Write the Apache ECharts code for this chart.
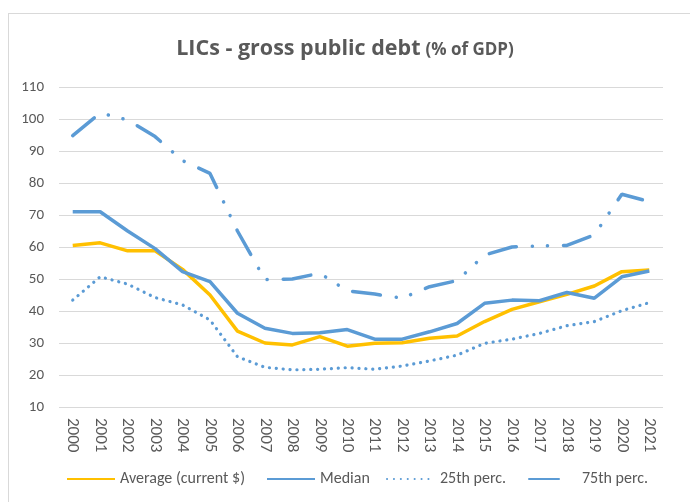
<!DOCTYPE html>
<html>
<head>
<meta charset="utf-8">
<script src="https://cdn.jsdelivr.net/npm/echarts@6/dist/echarts.min.js"></script>
<style>
  html, body { margin: 0; padding: 0; background: #fff; }
  #frame { position: absolute; left: 8px; top: 13px; width: 720px; height: 520px; border: 1px solid #d9d9d9; }
  #chart { position: absolute; left: 0; top: 0; width: 690px; height: 502px; }
</style>
</head>
<body>
<div id="frame"></div>
<div id="chart"></div>
<script>
const years = ['2000', '2001', '2002', '2003', '2004', '2005', '2006', '2007', '2008', '2009', '2010',
  '2011', '2012', '2013', '2014', '2015', '2016', '2017', '2018', '2019', '2020', '2021'];
const average = [60.5, 61.3, 58.8, 58.8, 53, 45, 33.7, 30, 29.4, 32, 29, 29.9, 30.1, 31.5, 32.2, 36.7, 40.5, 42.9, 45.2, 47.8, 52.3, 52.8];
const median = [71, 71, 65, 59.5, 52.3, 49.2, 39.3, 34.6, 33, 33.2, 34.2, 31.2, 31.2, 33.5, 36.1, 42.4, 43.4, 43.2, 45.8, 44, 50.7, 52.5];
const p25 = [43.4, 50.7, 48.4, 44.2, 41.9, 37.2, 25.7, 22.4, 21.6, 21.8, 22.3, 21.8, 22.8, 24.4, 26.2, 29.9, 31.2, 33, 35.4, 36.7, 40.1, 42.6];
const p75 = [94.8, 101.9, 99.7, 94.5, 87, 83, 65, 49.8, 50, 51.8, 46.3, 45.3, 44, 47.6, 49.5, 57.5, 60, 60.3, 60.5, 63.8, 76.5, 74.2];
const seriesNames = ['Average (current $)', 'Median', '25th perc.', '75th perc.'];
const yTicks = { min: 10, max: 110, step: 10 };

const font = 'Carlito, "Liberation Sans Narrow", "Open Sans", sans-serif';
const titleFont = '"Open Sans", sans-serif';
const grey = '#595959';
const blue = '#5b9bd5';
const gold = '#ffc000';

// one legend per item so each sits where the reference puts it
const legendLefts = [66, 266, 386, 528];
const legends = seriesNames.map((name, i) => ({
  left: legendLefts[i],
  top: 471,
  padding: 0,
  itemWidth: 48,
  itemHeight: 14,
  itemGap: 5,
  itemStyle: { opacity: 0 },
  textStyle: { fontFamily: font, fontSize: 16, color: grey },
  data: [name]
}));
// the 75th perc. key only shows its first long dash
legends[3].lineStyle = { type: [30, 40], cap: 'round' };

const chart = echarts.init(document.getElementById('chart'));

chart.setOption({
  animation: false,
  title: {
    text: '{b|LICs - gross public debt} {s|(% of GDP)}',
    left: 'center',
    top: 33,
    textStyle: {
      rich: {
        b: { fontFamily: titleFont, fontSize: 21.5, fontWeight: 'bold', color: grey },
        s: { fontFamily: titleFont, fontSize: 17, color: grey, padding: [3, 0, 0, 0] }
      }
    }
  },
  grid: {
    left: 59,
    right: 27,
    top: 87,
    bottom: 95
  },
  legend: legends,
  xAxis: {
    type: 'category',
    data: years,
    axisLine: { show: false },
    axisTick: { show: false },
    axisLabel: {
      interval: 0,
      rotate: -90,
      margin: 11,
      fontFamily: font,
      fontSize: 17,
      color: grey
    }
  },
  yAxis: {
    type: 'value',
    min: yTicks.min,
    max: yTicks.max,
    interval: yTicks.step,
    axisLine: { show: false },
    axisTick: { show: false },
    axisLabel: { margin: 15, fontFamily: font, fontSize: 15, color: grey },
    splitLine: { lineStyle: { color: '#d9d9d9', width: 1 } }
  },
  series: [{
    name: seriesNames[0],
    type: 'line',
    data: average,
    showSymbol: false,
    symbol: 'none',
    lineStyle: { color: gold, width: 3.5 },
    itemStyle: { color: gold }
  }, {
    name: seriesNames[1],
    type: 'line',
    data: median,
    showSymbol: false,
    symbol: 'none',
    lineStyle: { color: blue, width: 3.5 },
    itemStyle: { color: blue }
  }, {
    name: seriesNames[2],
    type: 'line',
    data: p25,
    showSymbol: false,
    symbol: 'none',
    lineStyle: { color: blue, width: 3.2, type: [0.1, 6.8], cap: 'round' },
    itemStyle: { color: blue }
  }, {
    name: seriesNames[3],
    type: 'line',
    data: p75,
    showSymbol: false,
    symbol: 'none',
    lineStyle: { color: blue, width: 3.5, type: [28, 16, 0.1, 15, 0.1, 16], cap: 'round' },
    itemStyle: { color: blue }
  }]
});
</script>
</body>
</html>
